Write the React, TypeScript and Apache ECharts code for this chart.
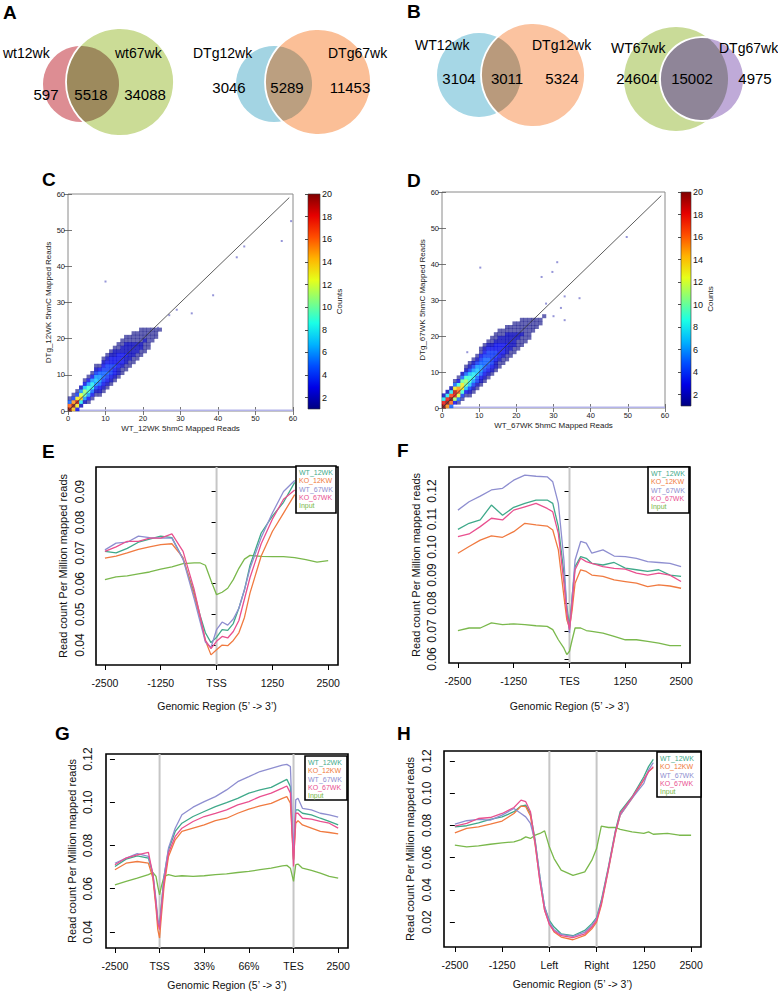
import React, { useEffect, useRef } from "react";
import * as echarts from "echarts";

const FONT = "'Liberation Sans', Arial, sans-serif";

// ---------------- Venn data ----------------
const vennA1Names = ["wt12wk", "wt67wk"];
const vennA1Counts = [597, 5518, 34088];
const vennA2Names = ["DTg12wk", "DTg67wk"];
const vennA2Counts = [3046, 5289, 11453];
const vennB1Names = ["WT12wk", "DTg12wk"];
const vennB1Counts = [3104, 3011, 5324];
const vennB2Names = ["WT67wk", "DTg67wk"];
const vennB2Counts = [24604, 15002, 4975];

const panelLetters = ["A", "B", "C", "D", "E", "F", "G", "H"];

// ---------------- Density scatter data (C, D) ----------------
// per x-bin (width 1 read): lowest y-bin and counts upward
const cColStart = [0, 0, 0, 1, 2, 2, 3, 4, 4, 5, 6, 7, 8, 9, 10, 11, 12, 13, 14, 15, 16, 17, 19, 20, 22];
const cColCounts = [
  [20, 16, 5, 1], [14, 20, 15, 4, 1], [3, 13, 19, 13, 4, 1], [2, 8, 14, 12, 6, 2],
  [2, 6, 10, 11, 7, 3, 1], [1, 3, 6, 9, 9, 6, 3, 1], [1, 3, 5, 8, 8, 6, 3, 1],
  [1, 2, 4, 6, 7, 6, 4, 2, 1], [1, 2, 3, 5, 6, 6, 5, 3, 1], [1, 2, 3, 4, 5, 5, 4, 3, 2, 1],
  [1, 2, 3, 4, 5, 4, 4, 3, 2, 1], [1, 2, 3, 4, 4, 4, 3, 3, 2, 1], [1, 2, 3, 3, 4, 3, 3, 2, 2, 1],
  [1, 2, 2, 3, 3, 3, 3, 2, 1, 1], [1, 1, 2, 3, 3, 3, 2, 2, 1, 1], [1, 1, 2, 2, 3, 2, 2, 2, 1, 1],
  [1, 1, 2, 2, 2, 2, 2, 1, 1], [1, 1, 2, 2, 2, 2, 1, 1, 1], [1, 1, 2, 2, 2, 1, 1, 1],
  [1, 1, 2, 2, 1, 1, 1, 1], [1, 1, 1, 2, 1, 1, 1], [1, 1, 1, 1, 1, 1], [1, 1, 1, 1], [1, 1, 1], [1],
];
const cOutliers = [[10, 35.8], [27, 26.5], [29, 28], [33, 27], [38.7, 32], [45, 42.5], [47, 45.5], [57, 47], [59.5, 52.5], [24, 23], [22, 19.5]];

const dColStart = [0, 0, 0, 1, 1, 2, 3, 3, 4, 5, 6, 7, 8, 9, 10, 11, 12, 13, 14, 15, 16, 17, 18, 19, 21, 22, 23, 25];
const dColCounts = [
  [20, 18, 8, 2], [15, 20, 18, 8, 2], [5, 16, 20, 17, 8, 2], [3, 11, 18, 19, 13, 5, 1],
  [1, 5, 12, 16, 15, 9, 3, 1], [1, 4, 9, 13, 13, 10, 5, 2], [1, 3, 7, 10, 11, 9, 5, 2, 1],
  [1, 2, 4, 7, 9, 9, 7, 4, 2, 1], [1, 2, 4, 6, 8, 8, 6, 4, 2, 1], [1, 2, 4, 5, 7, 7, 6, 4, 2, 1],
  [1, 2, 3, 5, 6, 6, 5, 4, 3, 1, 1], [1, 2, 3, 4, 5, 5, 5, 4, 3, 2, 1], [1, 2, 3, 4, 5, 5, 4, 4, 3, 2, 1],
  [1, 2, 3, 4, 4, 4, 4, 3, 2, 1, 1], [1, 2, 2, 3, 4, 4, 3, 3, 2, 1, 1], [1, 1, 2, 3, 3, 3, 3, 2, 2, 1, 1],
  [1, 1, 2, 3, 3, 3, 2, 2, 1, 1], [1, 1, 2, 2, 3, 2, 2, 2, 1, 1], [1, 1, 2, 2, 2, 2, 2, 1, 1],
  [1, 1, 2, 2, 2, 2, 1, 1, 1], [1, 1, 1, 2, 2, 1, 1, 1], [1, 1, 1, 2, 1, 1, 1, 1],
  [1, 1, 1, 1, 1, 1, 1], [1, 1, 1, 1, 1, 1], [1, 1, 1, 1], [1, 1, 1], [1, 1], [1],
];
const dOutliers = [[10.3, 39], [31, 40.5], [29.7, 37.8], [26.8, 36.4], [33, 31], [37, 30.5], [32, 27.8], [33, 24.4], [49.7, 47.5], [6.8, 15.5], [28, 29], [30, 25.5]];

const scatterRange = [0, 60];
const scatterTicks = [0, 10, 20, 30, 40, 50, 60];
const diagonalEnd = 59;
const zeroRowY = 0.2;
const countRange = [1, 20];
const colorbarTicks = [2, 4, 6, 8, 10, 12, 14, 16, 18, 20];

// ---------------- Profile line data (E-H) ----------------
const lineNames = ["WT_12WK", "KO_12KW", "WT_67WK", "KO_67WK", "Input"];

const eX = [-2500, -2250, -2000, -1750, -1500, -1250, -1000, -750, -500, -375, -250, -125, 0, 125, 250, 375, 500, 625, 750, 1000, 1250, 1500, 1750, 2000, 2250, 2500];
const eWT12 = [0.0705, 0.07, 0.0715, 0.0735, 0.0745, 0.0755, 0.075, 0.068, 0.057, 0.05, 0.044, 0.0408, 0.0425, 0.045, 0.0448, 0.047, 0.052, 0.058, 0.066, 0.0765, 0.082, 0.0865, 0.093];
const eKO12 = [0.0683, 0.069, 0.07, 0.0712, 0.072, 0.0727, 0.073, 0.0685, 0.056, 0.049, 0.0415, 0.0368, 0.0385, 0.04, 0.0398, 0.0415, 0.044, 0.049, 0.057, 0.069, 0.077, 0.083, 0.089];
const eWT67 = [0.071, 0.0732, 0.0735, 0.0755, 0.075, 0.0748, 0.0748, 0.068, 0.055, 0.048, 0.041, 0.0392, 0.045, 0.0475, 0.0465, 0.0485, 0.052, 0.058, 0.065, 0.075, 0.083, 0.09, 0.0936];
const eKO67 = [0.0705, 0.072, 0.0738, 0.0738, 0.0748, 0.0748, 0.0762, 0.0705, 0.058, 0.05, 0.0415, 0.0388, 0.0412, 0.0428, 0.0423, 0.0444, 0.048, 0.055, 0.062, 0.073, 0.081, 0.0875, 0.0905];
const eInput = [0.0613, 0.0622, 0.0625, 0.0632, 0.0638, 0.0647, 0.0655, 0.0665, 0.0668, 0.0668, 0.066, 0.061, 0.0564, 0.0572, 0.0585, 0.0613, 0.065, 0.068, 0.0692, 0.0689, 0.0688, 0.0688, 0.0685, 0.0678, 0.067, 0.0675];

const fX = [-2500, -2250, -2000, -1750, -1500, -1250, -1000, -750, -500, -375, -250, -125, -60, 0, 60, 125, 250, 375, 500, 750, 1000, 1250, 1500, 1750, 2000, 2250, 2500];
const fWT12 = [0.1063, 0.1085, 0.1097, 0.115, 0.1114, 0.1142, 0.1156, 0.1168, 0.1168, 0.1156, 0.1073, 0.0907, 0.0788, 0.0717, 0.0824, 0.093, 0.0966, 0.096, 0.0942, 0.0936, 0.0945, 0.0925, 0.0919, 0.0913, 0.0919, 0.09, 0.0895];
const fKO12 = [0.0978, 0.1002, 0.1025, 0.104, 0.1035, 0.1055, 0.1085, 0.1079, 0.1075, 0.1061, 0.099, 0.0824, 0.074, 0.0711, 0.0776, 0.0871, 0.0919, 0.0913, 0.09, 0.0895, 0.0883, 0.0877, 0.0871, 0.0859, 0.0865, 0.0861, 0.0853];
const fWT67 = [0.1132, 0.1162, 0.1182, 0.1204, 0.121, 0.1239, 0.1257, 0.1253, 0.1251, 0.1233, 0.1156, 0.0954, 0.0776, 0.0693, 0.0824, 0.0954, 0.102, 0.1014, 0.0978, 0.099, 0.0968, 0.0966, 0.096, 0.0948, 0.0945, 0.0942, 0.093];
const fKO67 = [0.1037, 0.1047, 0.1073, 0.1103, 0.1097, 0.1132, 0.1144, 0.1156, 0.1138, 0.1126, 0.1049, 0.0871, 0.0764, 0.0705, 0.08, 0.0919, 0.096, 0.0948, 0.0942, 0.093, 0.0924, 0.0921, 0.0907, 0.09, 0.0907, 0.09, 0.0877];
const fInput = [0.0702, 0.0711, 0.0711, 0.0729, 0.0723, 0.0726, 0.0723, 0.0719, 0.0717, 0.0705, 0.0669, 0.0639, 0.0616, 0.0628, 0.0669, 0.0711, 0.0711, 0.0702, 0.0699, 0.0693, 0.0681, 0.0669, 0.0669, 0.0663, 0.0657, 0.0648, 0.0648];

// G: positions 0..5 = -2500, TSS, 33%, 66%, TES, 2500
const gX = [0, 0.25, 0.5, 0.75, 0.85, 0.92, 0.96, 1.0, 1.04, 1.1, 1.2, 1.35, 1.5, 1.75, 2.0, 2.25, 2.5, 2.75, 3.0, 3.25, 3.5, 3.75, 3.85, 3.93, 4.0, 4.05, 4.1, 4.2, 4.4, 4.6, 4.8, 5.0];
const gWT12 = [0.0703, 0.0737, 0.0752, 0.0742, 0.0665, 0.0534, 0.0449, 0.0434, 0.0526, 0.0657, 0.078, 0.0865, 0.0903, 0.0934, 0.0957, 0.098, 0.0998, 0.1018, 0.1042, 0.1057, 0.1069, 0.1095, 0.1106, 0.1072, 0.0735, 0.0965, 0.0965, 0.0949, 0.0942, 0.0926, 0.0911, 0.0895];
const gKO12 = [0.0688, 0.0718, 0.0726, 0.0718, 0.0649, 0.0511, 0.0411, 0.0372, 0.0472, 0.0611, 0.0749, 0.0826, 0.0865, 0.088, 0.0895, 0.0915, 0.0926, 0.0949, 0.0968, 0.0983, 0.0995, 0.1018, 0.1026, 0.0995, 0.0734, 0.0903, 0.0915, 0.0895, 0.088, 0.0865, 0.086, 0.0854];
const gWT67 = [0.0718, 0.0742, 0.0762, 0.075, 0.0672, 0.0549, 0.0457, 0.0426, 0.0518, 0.0657, 0.0788, 0.088, 0.0942, 0.0977, 0.1003, 0.1026, 0.1057, 0.1095, 0.1118, 0.1142, 0.1157, 0.1172, 0.1175, 0.1165, 0.075, 0.1011, 0.1018, 0.0972, 0.0965, 0.0949, 0.0942, 0.0931];
const gKO67 = [0.0711, 0.0742, 0.0757, 0.0768, 0.0665, 0.0526, 0.0442, 0.0411, 0.0503, 0.0634, 0.0765, 0.0842, 0.088, 0.0911, 0.0934, 0.0949, 0.0965, 0.0988, 0.1003, 0.1026, 0.1042, 0.1065, 0.1075, 0.1042, 0.0703, 0.0949, 0.0949, 0.0926, 0.0922, 0.0911, 0.0903, 0.088];
const gInput = [0.0618, 0.0634, 0.0649, 0.0665, 0.0675, 0.0657, 0.0611, 0.0572, 0.0611, 0.0657, 0.0665, 0.0657, 0.066, 0.0657, 0.066, 0.0665, 0.0669, 0.0675, 0.068, 0.0688, 0.0695, 0.0706, 0.0708, 0.0695, 0.0634, 0.0711, 0.0714, 0.0695, 0.0685, 0.0672, 0.0657, 0.0649];

// H: positions 0..5 = -2500, -1250, Left, Right, 1250, 2500
const hX = [0, 0.25, 0.5, 0.75, 1.0, 1.25, 1.4, 1.5, 1.6, 1.7, 1.8, 1.9, 2.0, 2.1, 2.25, 2.5, 2.75, 2.9, 3.0, 3.1, 3.25, 3.4, 3.5, 3.75, 4.0, 4.1, 4.2, 4.5, 4.75, 5.0];
const hWT12 = [0.0791, 0.0798, 0.0816, 0.0837, 0.0853, 0.0885, 0.092, 0.0926, 0.0874, 0.0708, 0.048, 0.0293, 0.021, 0.0169, 0.0127, 0.0115, 0.0148, 0.019, 0.0227, 0.0335, 0.0542, 0.0771, 0.0885, 0.0978, 0.1102, 0.1165, 0.121];
const hKO12 = [0.0754, 0.0781, 0.0791, 0.0808, 0.0827, 0.0874, 0.092, 0.0916, 0.0858, 0.0677, 0.0459, 0.0273, 0.019, 0.0138, 0.0107, 0.009, 0.0117, 0.0158, 0.02, 0.0304, 0.0522, 0.075, 0.0864, 0.0968, 0.1082, 0.1134, 0.116];
const hWT67 = [0.0808, 0.0829, 0.0837, 0.0833, 0.0864, 0.0905, 0.0874, 0.0853, 0.0812, 0.0698, 0.048, 0.0293, 0.02, 0.0152, 0.0123, 0.0111, 0.0138, 0.0179, 0.0221, 0.0324, 0.0532, 0.076, 0.0864, 0.0968, 0.1061, 0.1144, 0.119];
const hKO67 = [0.0796, 0.0812, 0.0843, 0.0849, 0.0874, 0.0911, 0.0957, 0.0947, 0.0885, 0.0688, 0.0449, 0.0273, 0.0185, 0.0144, 0.0115, 0.0103, 0.0127, 0.0169, 0.021, 0.0314, 0.0532, 0.076, 0.0874, 0.0974, 0.1086, 0.1134, 0.1165];
const hInput = [0.0677, 0.0667, 0.0673, 0.0683, 0.0692, 0.0698, 0.0712, 0.0729, 0.0719, 0.0739, 0.075, 0.0766, 0.0667, 0.0594, 0.0522, 0.049, 0.0511, 0.0584, 0.0656, 0.0795, 0.0787, 0.0787, 0.0775, 0.076, 0.075, 0.076, 0.0745, 0.075, 0.0739, 0.0739];

const eXTicks = [-2500, -1250, 0, 1250, 2500];
const eXTickLabels = ["-2500", "-1250", "TSS", "1250", "2500"];
const fXTickLabels = ["-2500", "-1250", "TES", "1250", "2500"];
const posTicks = [0, 1, 2, 3, 4, 5];
const gXTickLabels = ["-2500", "TSS", "33%", "66%", "TES", "2500"];
const hXTickLabels = ["-2500", "-1250", "Left", "Right", "1250", "2500"];
const eYTicks = [0.04, 0.05, 0.06, 0.07, 0.08, 0.09];
const fYTicks = [0.06, 0.07, 0.08, 0.09, 0.1, 0.11, 0.12];
const gYTicks = [0.04, 0.06, 0.08, 0.1, 0.12];
const hYTicks = [0.02, 0.04, 0.06, 0.08, 0.1, 0.12];
const eMarks = [0];
const fMarks = [0];
const gMarks = [1, 4];
const hMarks = [2, 3];

// ---------------- styles ----------------
const LINE_COLORS = ["#3fa98a", "#f07a40", "#8e8ed0", "#e9508f", "#7ab84c"];
const JET = ["#000080", "#0000e6", "#004dff", "#00b3ff", "#1affe6", "#80ff80", "#e6ff1a", "#ffb300", "#ff4d00", "#e60000", "#800000"];

function lensPoints(c1: number[], c2: number[]) {
  const [x1, y1, r1] = c1;
  const [x2, y2, r2] = c2;
  const d = Math.hypot(x2 - x1, y2 - y1);
  const a1 = Math.acos((r1 * r1 + d * d - r2 * r2) / (2 * r1 * d));
  const a2 = Math.acos((r2 * r2 + d * d - r1 * r1) / (2 * r2 * d));
  const t1 = Math.atan2(y2 - y1, x2 - x1);
  const t2 = Math.atan2(y1 - y2, x1 - x2);
  const pts: number[][] = [];
  const N = 48;
  for (let i = 0; i <= N; i++) {
    const t = t1 - a1 + (2 * a1 * i) / N;
    pts.push([x1 + r1 * Math.cos(t), y1 + r1 * Math.sin(t)]);
  }
  for (let i = 0; i <= N; i++) {
    const t = t2 - a2 + (2 * a2 * i) / N;
    pts.push([x2 + r2 * Math.cos(t), y2 + r2 * Math.sin(t)]);
  }
  return pts;
}

function txt(text: string, x: number, y: number, size: number, opts: any = {}) {
  const align = opts.align || "left";
  return {
    type: "text",
    x,
    y,
    z: opts.z ?? 10,
    style: {
      text,
      fill: opts.fill || "#000",
      font: `${opts.bold ? "bold " : ""}${size}px ${FONT}`,
      textAlign: align,
      align,
      textVerticalAlign: "middle",
      verticalAlign: "middle",
    },
  };
}

function buildOption() {
  const graphic: any[] = [];

  // Venn diagrams
  const venns = [
    { names: vennA1Names, counts: vennA1Counts, c1: [81, 84, 38], c2: [120, 82, 54], f1: "#dd8d93", f2: "#cbdc96", fx: "#9d8a5d", namePos: [[3, 53], [115, 53]], countPos: [[46, 94], [91, 94], [145, 94]] },
    { names: vennA2Names, counts: vennA2Counts, c1: [274, 84, 38], c2: [318, 82, 53], f1: "#a3d4e3", f2: "#fbbf97", fx: "#bb9f80", namePos: [[193, 53], [328, 53]], countPos: [[229, 87], [287, 87], [350, 87]] },
    { names: vennB1Names, counts: vennB1Counts, c1: [479, 75, 42], c2: [533, 75, 52], f1: "#a6d7e6", f2: "#fbc3a0", fx: "#b99a7c", namePos: [[415, 45], [532, 45]], countPos: [[459, 78], [507, 78], [562, 78]] },
    { names: vennB2Names, counts: vennB2Counts, c1: [676, 79, 52], c2: [702, 79, 42], f1: "#c9db98", f2: "#bfaad8", fx: "#8f8598", namePos: [[611, 48], [719, 48]], countPos: [[637, 78], [692, 78], [755, 78]] },
  ];
  venns.forEach((v) => {
    graphic.push({ type: "circle", z: 1, shape: { cx: v.c1[0], cy: v.c1[1], r: v.c1[2] }, style: { fill: v.f1 } });
    graphic.push({ type: "circle", z: 2, shape: { cx: v.c2[0], cy: v.c2[1], r: v.c2[2] }, style: { fill: v.f2 } });
    graphic.push({ type: "polygon", z: 3, shape: { points: lensPoints(v.c1, v.c2) }, style: { fill: v.fx } });
    graphic.push({ type: "circle", z: 4, shape: { cx: v.c2[0], cy: v.c2[1], r: v.c2[2] }, style: { fill: "none", stroke: "#ffffff", lineWidth: 1.8 } });
    v.names.forEach((n, i) => graphic.push(txt(n, v.namePos[i][0], v.namePos[i][1], 14)));
    v.counts.forEach((c, i) => graphic.push(txt(String(c), v.countPos[i][0], v.countPos[i][1], 15, { align: "center" })));
  });

  // panel letters
  const letterPos = [[3, 12], [407, 11], [42, 179], [407, 180], [42, 451], [397, 450], [55, 733], [397, 733]];
  panelLetters.forEach((l, i) => graphic.push(txt(l, letterPos[i][0], letterPos[i][1], 19, { bold: true })));

  const grids: any[] = [];
  const xAxes: any[] = [];
  const yAxes: any[] = [];
  const series: any[] = [];
  const scatterSeriesIdx: number[] = [];

  // ---------- scatter panels ----------
  const scatterPanel = (
    g: { left: number; top: number; width: number; height: number },
    bar: { left: number; top: number; width: number; height: number },
    xName: string,
    yName: string,
    starts: number[],
    counts: number[][],
    outliers: number[][]
  ) => {
    const gi = grids.length;
    grids.push({ ...g, show: true, borderColor: "#8a8a8a", borderWidth: 1, backgroundColor: "transparent", containLabel: false, outerBoundsMode: "none" });
    const tickCommon = { show: true, inside: true, length: 4, lineStyle: { color: "#555", width: 0.8 }, customValues: scatterTicks };
    const base = { type: "value", gridIndex: gi, min: scatterRange[0], max: scatterRange[1], splitLine: { show: false }, axisLine: { show: false } };
    const lab = { show: true, customValues: scatterTicks, fontSize: 7.5, color: "#222", margin: 3, fontFamily: FONT };
    const xi = xAxes.length;
    xAxes.push({ ...base, position: "bottom", axisTick: tickCommon, axisLabel: lab, name: xName, nameLocation: "middle", nameGap: 13, nameTextStyle: { fontSize: 8, fontFamily: FONT, color: "#222" } });
    xAxes.push({ ...base, position: "top", axisTick: tickCommon, axisLabel: { show: false } });
    const yi = yAxes.length;
    yAxes.push({ ...base, position: "left", axisTick: tickCommon, axisLabel: lab, name: yName, nameLocation: "middle", nameGap: 16, nameRotate: 90, nameTextStyle: { fontSize: 8, fontFamily: FONT, color: "#222" } });
    yAxes.push({ ...base, position: "right", axisTick: tickCommon, axisLabel: { show: false } });

    // lowest (y ~ 0) row
    series.push({ type: "line", xAxisIndex: xi, yAxisIndex: yi, data: [[scatterRange[0], zeroRowY], [scatterRange[1], zeroRowY]], symbol: "none", silent: true, lineStyle: { color: "#b4b4ea", width: 1.6 }, z: 2 });
    const cells: any[] = [];
    starts.forEach((lo, i) =>
      counts[i].forEach((c, j) => {
        const item: any = { value: [i + 0.5, lo + j + 0.5, c] };
        if (c <= 1) item.itemStyle = { opacity: 0.6 };
        cells.push(item);
      })
    );
    const cw = g.width / (scatterRange[1] - scatterRange[0]);
    const ch = g.height / (scatterRange[1] - scatterRange[0]);
    scatterSeriesIdx.push(series.length);
    series.push({ type: "scatter", xAxisIndex: xi, yAxisIndex: yi, symbol: "rect", symbolSize: [cw + 0.4, ch + 0.4], data: cells, silent: true, z: 3 });
    series.push({ type: "scatter", xAxisIndex: xi, yAxisIndex: yi, symbol: "rect", symbolSize: 2, data: outliers, itemStyle: { color: "#6a6ac8", opacity: 0.7 }, silent: true, z: 3 });
    series.push({ type: "line", xAxisIndex: xi, yAxisIndex: yi, data: [[0, 0], [diagonalEnd, diagonalEnd]], symbol: "none", silent: true, lineStyle: { color: "#333", width: 0.8 }, z: 4 });

    // colorbar axis
    const bi = grids.length;
    grids.push({ ...bar, show: false, containLabel: false, outerBoundsMode: "none" });
    const bxi = xAxes.length;
    xAxes.push({ type: "value", gridIndex: bi, min: 0, max: 1, show: false });
    const byi = yAxes.length;
    yAxes.push({
      type: "value", gridIndex: bi, min: countRange[0], max: countRange[1], position: "right",
      axisLine: { show: false }, splitLine: { show: false },
      axisTick: { show: true, inside: true, length: 3, lineStyle: { color: "#222", width: 0.8 }, customValues: colorbarTicks },
      axisLabel: { show: true, customValues: colorbarTicks, fontSize: 9, color: "#111", margin: 2, fontFamily: FONT },
      name: "Counts", nameLocation: "middle", nameRotate: 90, nameGap: 15, nameTextStyle: { fontSize: 8, fontFamily: FONT, color: "#222" },
    });
    series.push({ type: "line", xAxisIndex: bxi, yAxisIndex: byi, data: [], silent: true });
    graphic.push({
      type: "rect", z: 5,
      shape: { x: bar.left, y: bar.top, width: bar.width, height: bar.height },
      style: {
        fill: new echarts.graphic.LinearGradient(0, 1, 0, 0, JET.map((c, i) => ({ offset: i / (JET.length - 1), color: c }))),
        stroke: "#333", lineWidth: 0.6,
      },
    });
  };

  scatterPanel({ left: 68, top: 194, width: 225, height: 217 }, { left: 308, top: 194, width: 12, height: 215 }, "WT_12WK 5hmC Mapped Reads", "DTg_12WK 5hmC Mapped Reads", cColStart, cColCounts, cOutliers);
  scatterPanel({ left: 442, top: 192, width: 223, height: 216 }, { left: 681, top: 192, width: 10, height: 214 }, "WT_67WK 5hmC Mapped Reads", "DTg_67WK 5hmC Mapped Reads", dColStart, dColCounts, dOutliers);

  // ---------- profile panels ----------
  const profilePanel = (p: any) => {
    const gi = grids.length;
    grids.push({ ...p.grid, show: true, borderColor: "#000", borderWidth: 1.6, backgroundColor: "transparent", containLabel: false, outerBoundsMode: "none" });
    const xi = xAxes.length;
    xAxes.push({
      type: "value", gridIndex: gi, min: p.xMin, max: p.xMax, axisLine: { show: false }, splitLine: { show: false },
      axisTick: { show: true, inside: false, length: 5, lineStyle: { color: "#000", width: 1 }, customValues: p.xTicks },
      axisLabel: { show: true, customValues: p.xTicks, formatter: (v: number) => p.xLabels[p.xTicks.indexOf(v)] ?? "", fontSize: 10.5, color: "#111", margin: 12, fontFamily: FONT },
      name: "Genomic Region (5\u2019 -> 3\u2019)", nameLocation: "middle", nameGap: p.xNameGap, nameTextStyle: { fontSize: 10.5, fontFamily: FONT, color: "#111" },
    });
    const yi = yAxes.length;
    yAxes.push({
      type: "value", gridIndex: gi, min: p.yMin, max: p.yMax, axisLine: { show: false }, splitLine: { show: false },
      axisTick: { show: true, inside: false, length: 5, lineStyle: { color: "#000", width: 1 }, customValues: p.yTicks },
      axisLabel: { show: true, customValues: p.yTicks, rotate: 90, formatter: (v: number) => v.toFixed(2), fontSize: 12, color: "#111", margin: p.yLabMargin, fontFamily: FONT },
      name: "Read count Per Million mapped reads", nameLocation: "middle", nameRotate: 90, nameGap: p.yNameGap, nameTextStyle: { fontSize: 11, fontFamily: FONT, color: "#111" },
    });
    p.marks.forEach((m: number) => {
      series.push({ type: "line", xAxisIndex: xi, yAxisIndex: yi, data: [[m, p.yMin], [m, p.yMax]], symbol: "none", silent: true, lineStyle: { color: "#c6c6c6", width: 2 }, z: 1 });
    });
    const order = [4, 0, 1, 2, 3];
    order.forEach((k) => {
      const vals: number[] = p.vals[k];
      series.push({
        type: "line", name: lineNames[k], xAxisIndex: xi, yAxisIndex: yi,
        data: vals.map((v, i) => [p.xs[i], v]), symbol: "none", silent: true,
        lineStyle: { color: LINE_COLORS[k], width: 1.3 }, itemStyle: { color: LINE_COLORS[k] }, z: 3,
      });
    });
    const L = p.legend;
    graphic.push({ type: "rect", z: 100, shape: { x: L.x, y: L.y, width: L.w, height: L.h }, style: { fill: "#fff", stroke: "#000", lineWidth: 1.6 } });
    lineNames.forEach((n, i) => graphic.push(txt(n, L.x + 3, L.y + 6.5 + i * 8.3, 7, { fill: LINE_COLORS[i], z: 101 })));
  };

  profilePanel({
    grid: { left: 96, top: 467, width: 242, height: 198 }, xMin: -2700, xMax: 2720, yMin: 0.0335, yMax: 0.098,
    xTicks: eXTicks, xLabels: eXTickLabels, yTicks: eYTicks, marks: eMarks, xs: eX,
    vals: [eWT12, eKO12, eWT67, eKO67, eInput], xNameGap: 35, yNameGap: 28, yLabMargin: 10,
    legend: { x: 296, y: 466, w: 40, h: 47 },
  });
  profilePanel({
    grid: { left: 449, top: 467, width: 241, height: 196 }, xMin: -2700, xMax: 2700, yMin: 0.0586, yMax: 0.1286,
    xTicks: eXTicks, xLabels: fXTickLabels, yTicks: fYTicks, marks: fMarks, xs: fX,
    vals: [fWT12, fKO12, fWT67, fKO67, fInput], xNameGap: 37, yNameGap: 28, yLabMargin: 11,
    legend: { x: 648, y: 467, w: 41, h: 46 },
  });
  profilePanel({
    grid: { left: 106, top: 754, width: 242, height: 194 }, xMin: -0.2, xMax: 5.22, yMin: 0.0326, yMax: 0.1223,
    xTicks: posTicks, xLabels: gXTickLabels, yTicks: gYTicks, marks: gMarks, xs: gX,
    vals: [gWT12, gKO12, gWT67, gKO67, gInput], xNameGap: 31, yNameGap: 29, yLabMargin: 12,
    legend: { x: 305, y: 756, w: 42, h: 44 },
  });
  profilePanel({
    grid: { left: 444, top: 751, width: 257, height: 196 }, xMin: -0.23, xMax: 5.21, yMin: 0.0045, yMax: 0.1262,
    xTicks: posTicks, xLabels: hXTickLabels, yTicks: hYTicks, marks: hMarks, xs: hX,
    vals: [hWT12, hKO12, hWT67, hKO67, hInput], xNameGap: 31, yNameGap: 29, yLabMargin: 11,
    legend: { x: 657, y: 752, w: 44, h: 45 },
  });

  return {
    animation: false,
    backgroundColor: "#ffffff",
    textStyle: { fontFamily: FONT },
    grid: grids,
    xAxis: xAxes,
    yAxis: yAxes,
    visualMap: [
      { type: "continuous", show: false, min: countRange[0], max: countRange[1], dimension: 2, seriesIndex: scatterSeriesIdx, inRange: { color: JET } },
    ],
    series,
    graphic: { elements: graphic },
  };
}

export default function App() {
  const ref = useRef<HTMLDivElement>(null);
  useEffect(() => {
    if (!ref.current) return;
    const chart = echarts.init(ref.current, null, { renderer: "svg" });
    chart.setOption(buildOption() as any);
    return () => chart.dispose();
  }, []);
  return (
    <div
      ref={ref}
      style={{ position: "absolute", left: 0, top: 0, width: 778, height: 992, background: "#fff" }}
    />
  );
}
